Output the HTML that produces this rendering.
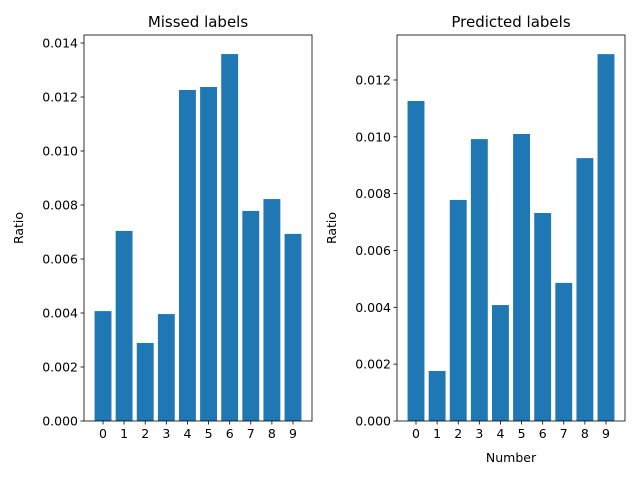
<!DOCTYPE html>
<html><head><meta charset="utf-8"><style>
body{margin:0;background:#fff}
svg{display:block;font-family:"DejaVu Sans","Liberation Sans",sans-serif}
</style></head><body>
<svg id="c" width="640" height="480"></svg>
<script>
const categories=["0","1","2","3","4","5","6","7","8","9"];
const missedValues=[0.00407,0.00704,0.00289,0.00396,0.01226,0.01237,0.01359,0.00778,0.00822,0.00693];
const predictedValues=[0.01126,0.00176,0.00778,0.00992,0.00408,0.0101,0.00732,0.00486,0.00925,0.01291];
const missedTicks=[0,0.002,0.004,0.006,0.008,0.010,0.012,0.014];
const predictedTicks=[0,0.002,0.004,0.006,0.008,0.010,0.012];
const svg=document.getElementById('c');
const NS='http://www.w3.org/2000/svg';
function mk(t,a,p){const e=document.createElementNS(NS,t);for(const k in a)e.setAttribute(k,a[k]);(p||svg).appendChild(e);return e;}
function panel(name,x0,x1,top,bottom,ymax,values,ticks,title,xlabel){
  const g=mk('g',{});
  
  
  const n=categories.length;
  const xs=i=>x0+(i+0.9)*(x1-x0)/(n+0.8);
  const step=(x1-x0)/(n+0.8);
  const ys=v=>bottom-v/ymax*(bottom-top);
  values.forEach((v,i)=>{
    const r=mk('rect',{x:xs(i)-0.4*step,y:ys(v),width:0.8*step,height:bottom-ys(v),fill:'#1f77b4'},g);
    
    
  });
  const fr=mk('rect',{x:x0,y:top,width:x1-x0,height:bottom-top,fill:'none',stroke:'#000','stroke-width':0.8},g);
  
  
  categories.forEach((c,i)=>{
    mk('line',{x1:xs(i),x2:xs(i),y1:bottom,y2:bottom+3.5,stroke:'#000','stroke-width':0.8},g);
    const t=mk('text',{x:xs(i),y:bottom+17,'text-anchor':'middle','font-size':12.5},g);
    t.textContent=c;
    
    
  });
  ticks.forEach(v=>{
    mk('line',{x1:x0-3.5,x2:x0,y1:ys(v),y2:ys(v),stroke:'#000','stroke-width':0.8},g);
    const t=mk('text',{x:x0-6,y:ys(v)+4.5,'text-anchor':'end','font-size':12.5},g);
    t.textContent=v.toFixed(3);
    
    
  });
  const tt=mk('text',{x:(x0+x1)/2,y:top-8,'text-anchor':'middle','font-size':15},g);
  tt.textContent=title;
  
  
  const yl=mk('text',{x:0,y:0,'text-anchor':'middle','font-size':12.5,transform:`translate(${x0-61},${(top+bottom)/2}) rotate(-90)`},g);
  yl.textContent='Ratio';
  
  
  if(xlabel){
    const xl=mk('text',{x:(x0+x1)/2,y:bottom+41,'text-anchor':'middle','font-size':12.5},g);
    xl.textContent=xlabel;
    
    
  }
}
panel('missed',84,312,35,421,386/27000,missedValues,missedTicks,'Missed labels',null);
panel('predicted',397,625,35,421,386/28417,predictedValues,predictedTicks,'Predicted labels','Number');
</script>
</body></html>
